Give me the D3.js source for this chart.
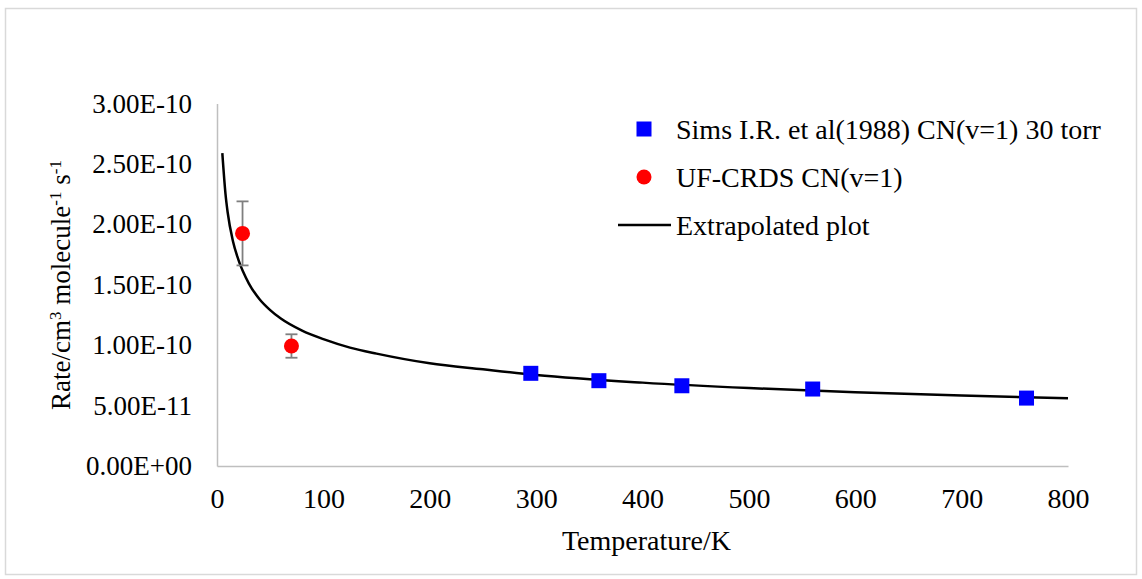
<!DOCTYPE html>
<html>
<head>
<meta charset="utf-8">
<script src="https://cdn.jsdelivr.net/npm/d3@7"></script>
<style>
  html, body { margin: 0; padding: 0; background: #fff; }
  svg { display: block; }
  text { font-family: "Liberation Serif", "Times New Roman", serif; fill: #000; }
</style>
</head>
<body>
<svg id="chart" width="1142" height="579"></svg>
<script>
// Sims I.R. et al (1988), CN(v=1), 30 torr
const simsTemp = [295, 359, 437, 560, 761];
const simsRate = [7.67e-11, 7.06e-11, 6.64e-11, 6.37e-11, 5.62e-11];

// UF-CRDS CN(v=1) measurements with their uncertainties
const crdsTemp = [24, 70];
const crdsRate = [1.925e-10, 9.93e-11];
const crdsErr  = [2.65e-11, 9.7e-12];

// Extrapolated rate curve, sampled along temperature
const fitTemp = [5, 8, 10, 15, 20, 30, 40, 50, 60, 80, 100, 125, 150, 200, 250, 300, 400, 500, 600, 700, 800];
const fitRate = [2.59e-10, 2.25e-10, 2.10e-10, 1.86e-10, 1.71e-10, 1.51e-10, 1.38e-10, 1.29e-10, 1.22e-10,
                 1.12e-10, 1.05e-10, 9.8e-11, 9.3e-11, 8.5e-11, 8.0e-11, 7.53e-11, 6.9e-11, 6.45e-11,
                 6.11e-11, 5.83e-11, 5.6e-11];

// Axis ticks
const xTicks = [0, 100, 200, 300, 400, 500, 600, 700, 800];
const yTicks = [0, 5e-11, 1e-10, 1.5e-10, 2e-10, 2.5e-10, 3e-10];
const yTickLabels = ["0.00E+00", "5.00E-11", "1.00E-10", "1.50E-10", "2.00E-10", "2.50E-10", "3.00E-10"];

const legendItems = ["Sims I.R. et al(1988) CN(v=1) 30 torr", "UF-CRDS CN(v=1)", "Extrapolated plot"];

const FONT = "Liberation Serif, Times New Roman, serif";
const svg = d3.select("#chart");

// chart frame
svg.append("rect")
  .attr("x", 5.5).attr("y", 8.5)
  .attr("width", 1131).attr("height", 566)
  .attr("fill", "#fff")
  .attr("stroke", "#d9d9d9")
  .attr("stroke-width", 1.5);

const x = d3.scaleLinear().domain([0, 800]).range([217, 1068]);
const y = d3.scaleLinear().domain([0, 3e-10]).range([466, 103.5]);

// y axis
const yAxis = svg.append("g")
  .attr("transform", `translate(${x(0)},0)`)
  .call(d3.axisLeft(y).tickValues(yTicks)
    .tickFormat((d, i) => yTickLabels[i])
    .tickSize(0).tickPadding(25))
  .attr("font-family", FONT)
  .attr("font-size", 27);
yAxis.select(".domain").attr("stroke", "#bfbfbf").attr("stroke-width", 1.5);

// x axis
const xAxis = svg.append("g")
  .attr("transform", `translate(0,${y(0)})`)
  .call(d3.axisBottom(x).tickValues(xTicks)
    .tickFormat(d3.format("d"))
    .tickSize(0).tickPadding(22))
  .attr("font-family", FONT)
  .attr("font-size", 28);
xAxis.select(".domain").attr("stroke", "#bfbfbf").attr("stroke-width", 1.5);

// axis titles
svg.append("text")
  .attr("x", (x(0) + x(800)) / 2 + 4)
  .attr("y", 550)
  .attr("text-anchor", "middle")
  .attr("font-family", FONT)
  .attr("font-size", 28)
  .text("Temperature/K");

const yTitle = svg.append("text")
  .attr("transform", `translate(70,285) rotate(-90)`)
  .attr("text-anchor", "middle")
  .attr("font-family", FONT)
  .attr("font-size", 27);
yTitle.append("tspan").text("Rate/cm");
yTitle.append("tspan").attr("baseline-shift", "super").attr("font-size", 17).text("3");
yTitle.append("tspan").text(" molecule");
yTitle.append("tspan").attr("baseline-shift", "super").attr("font-size", 17).text("-1");
yTitle.append("tspan").text("  s");
yTitle.append("tspan").attr("baseline-shift", "super").attr("font-size", 17).text("-1");

// extrapolated curve
const fitData = fitTemp.map((t, i) => [t, fitRate[i]]);
svg.append("path")
  .datum(fitData)
  .attr("fill", "none")
  .attr("stroke", "#000")
  .attr("stroke-width", 2.5)
  .attr("d", d3.line().x(d => x(d[0])).y(d => y(d[1])).curve(d3.curveMonotoneX));

// Sims squares
const sq = 15;
svg.append("g").selectAll("rect")
  .data(simsTemp.map((t, i) => [t, simsRate[i]]))
  .join("rect")
  .attr("x", d => x(d[0]) - sq / 2)
  .attr("y", d => y(d[1]) - sq / 2)
  .attr("width", sq).attr("height", sq)
  .attr("fill", "#0000ff");

// CRDS error bars
const crdsData = crdsTemp.map((t, i) => ({ t, k: crdsRate[i], e: crdsErr[i] }));
const eb = svg.append("g").attr("stroke", "#7f7f7f").attr("stroke-width", 1.8);
crdsData.forEach(d => {
  const cx = x(d.t);
  eb.append("line").attr("x1", cx).attr("x2", cx).attr("y1", y(d.k + d.e)).attr("y2", y(d.k - d.e));
  eb.append("line").attr("x1", cx - 6).attr("x2", cx + 6).attr("y1", y(d.k + d.e)).attr("y2", y(d.k + d.e));
  eb.append("line").attr("x1", cx - 6).attr("x2", cx + 6).attr("y1", y(d.k - d.e)).attr("y2", y(d.k - d.e));
});

// CRDS points
svg.append("g").selectAll("circle")
  .data(crdsData)
  .join("circle")
  .attr("cx", d => x(d.t))
  .attr("cy", d => y(d.k))
  .attr("r", 7.5)
  .attr("fill", "#ff0000");

// legend
const lg = svg.append("g");
const rowY = [129, 177, 225];
lg.append("rect").attr("x", 644 - sq / 2).attr("y", rowY[0] - sq / 2)
  .attr("width", sq).attr("height", sq).attr("fill", "#0000ff");
lg.append("circle").attr("cx", 644).attr("cy", rowY[1]).attr("r", 7.5).attr("fill", "#ff0000");
lg.append("line").attr("x1", 618).attr("x2", 671).attr("y1", rowY[2]).attr("y2", rowY[2])
  .attr("stroke", "#000").attr("stroke-width", 2.5);
lg.selectAll("text.leg")
  .data(legendItems)
  .join("text")
  .attr("class", "leg")
  .attr("x", 676)
  .attr("y", (d, i) => rowY[i] + 9.5)
  .attr("font-family", FONT)
  .attr("font-size", 28)
  .text(d => d);
</script>
</body>
</html>
